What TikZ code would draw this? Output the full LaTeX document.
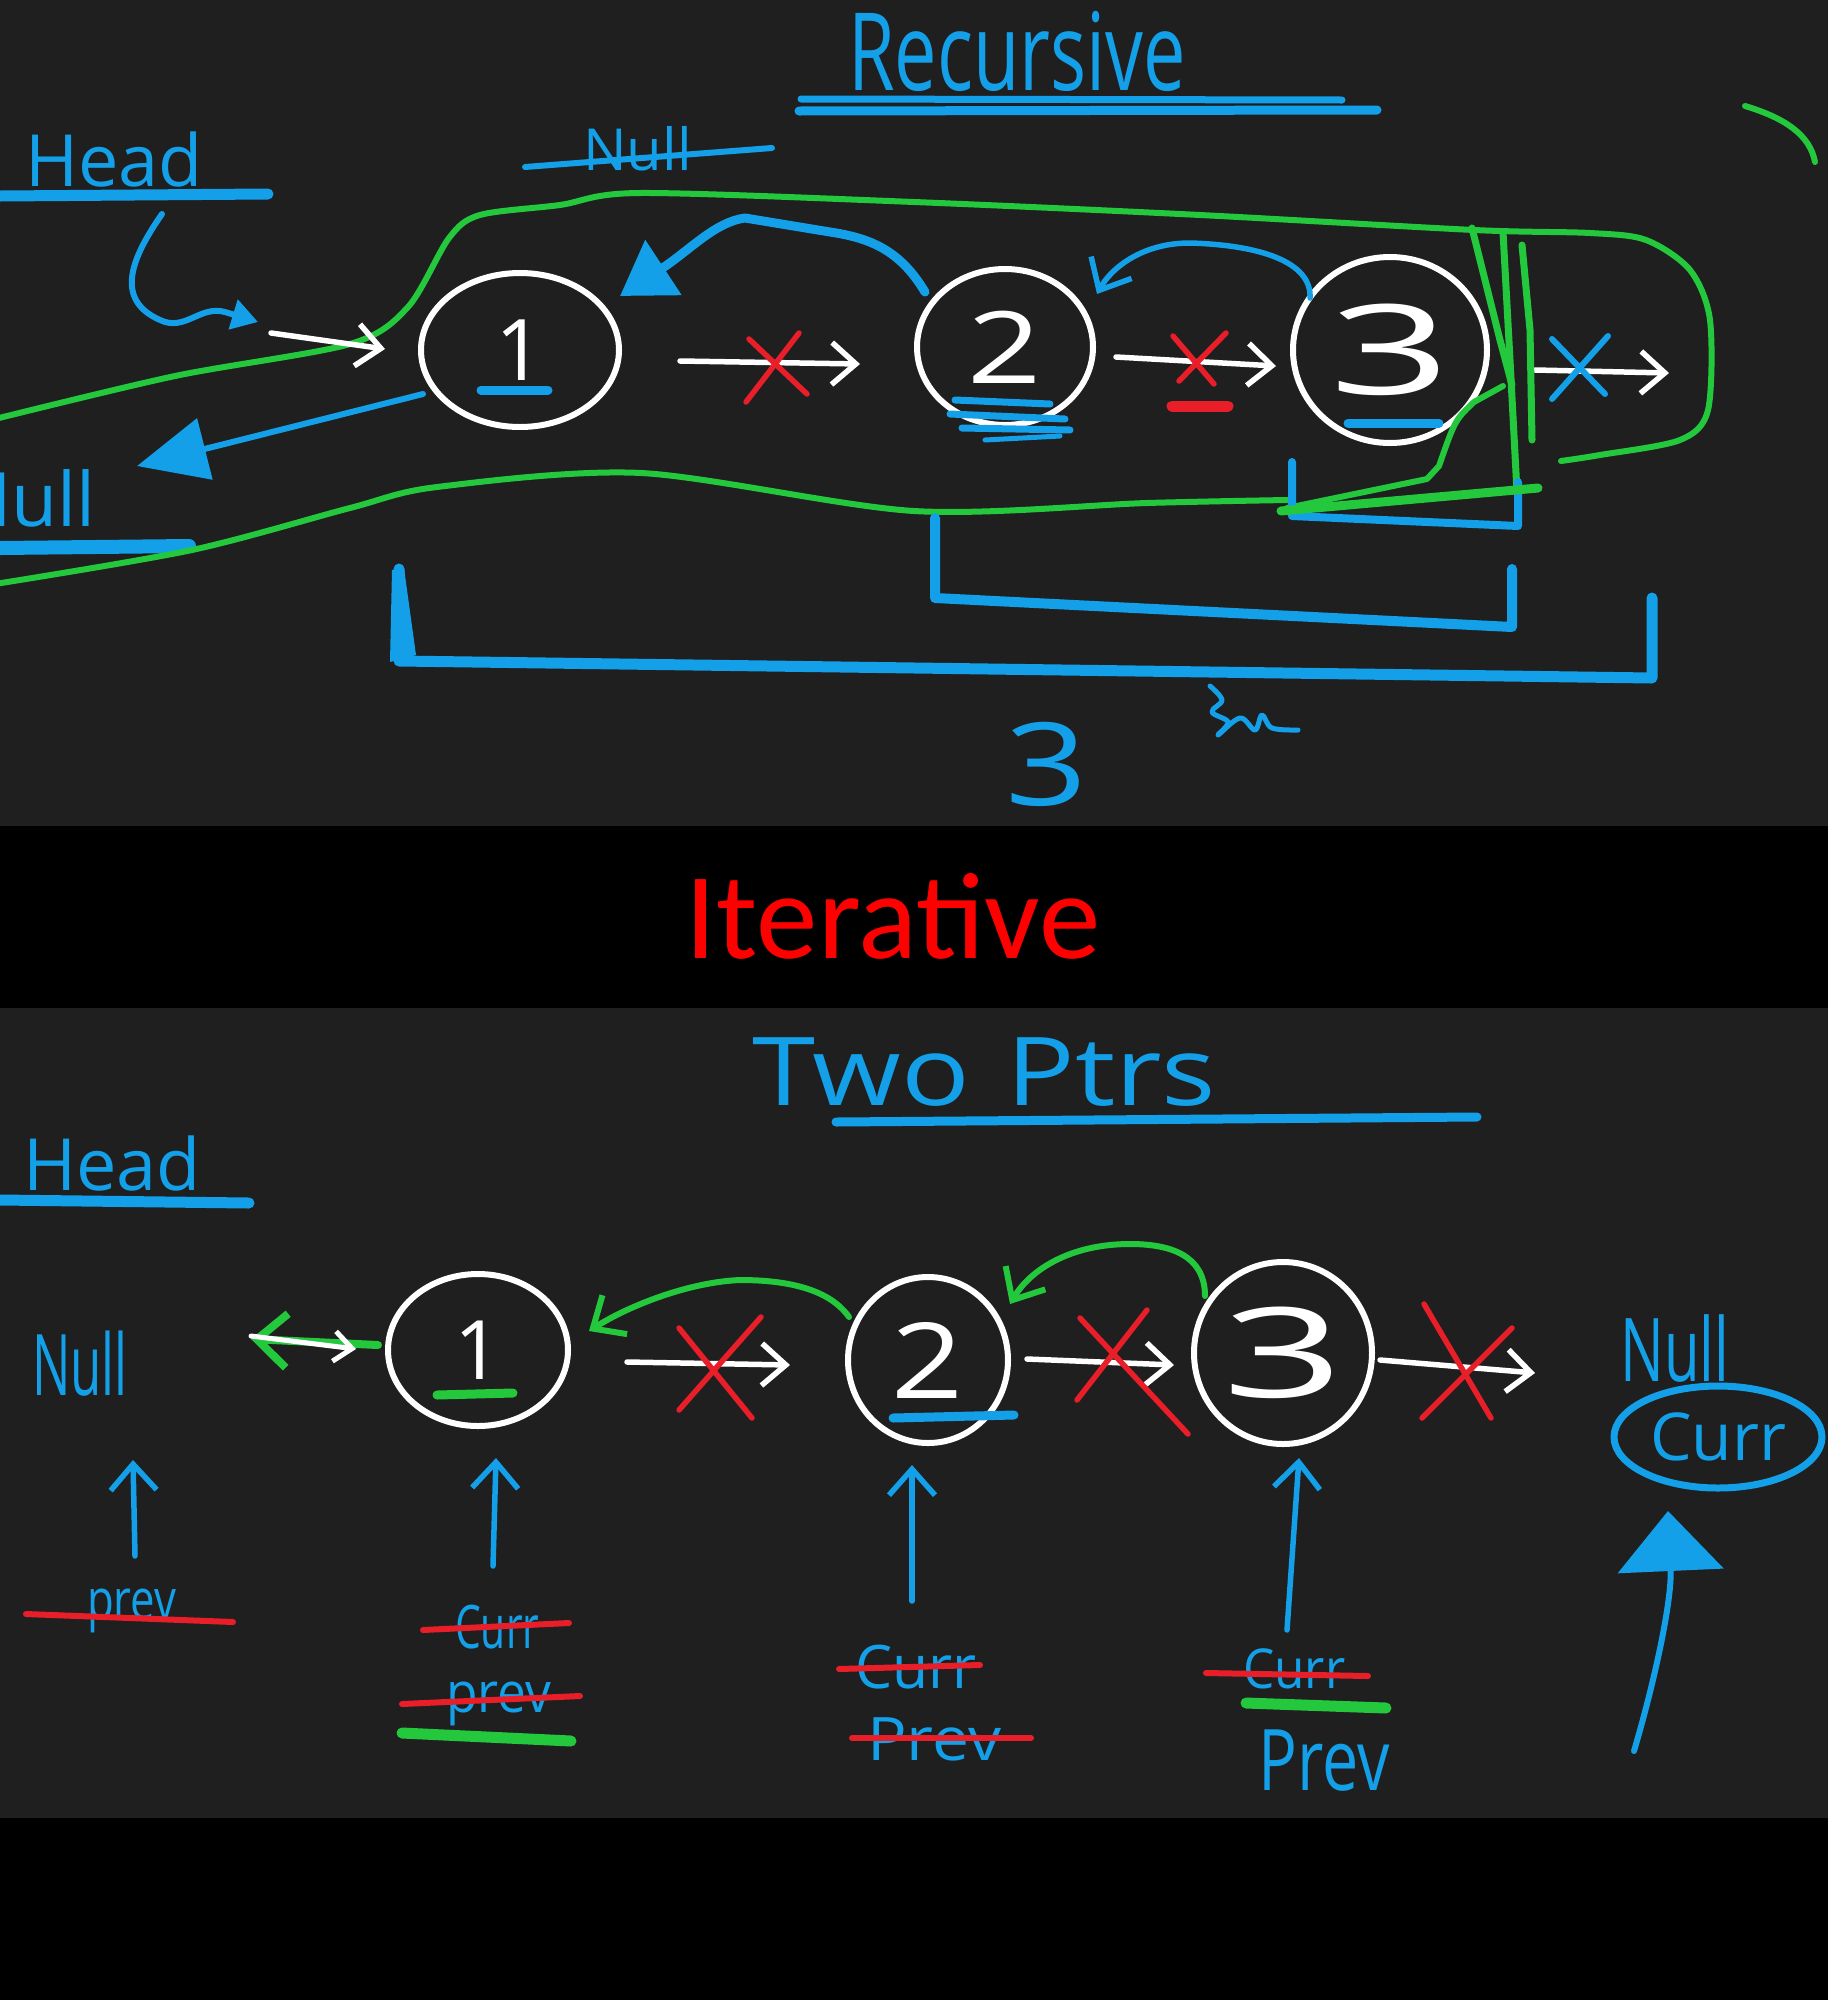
\documentclass[tikz,border=0pt]{standalone}
\usepackage{fontspec}
\newfontfamily\handfont{Open Sans}
\newfontfamily\iterfont{Carlito}
\usetikzlibrary{arrows.meta,shapes.geometric}
\definecolor{bgc}{RGB}{31,31,31}
\definecolor{pblue}{RGB}{20,160,232}
\definecolor{pgreen}{RGB}{36,200,60}
\definecolor{pred}{RGB}{232,30,40}
\definecolor{ired}{RGB}{255,0,0}
\newcommand\hwtext[3]{\scalebox{#1}[1]{\handfont\fontsize{#2pt}{#2pt}\selectfont #3}}
\begin{document}
\begin{tikzpicture}[x=1pt,y=-1pt,line cap=round,line join=round,
  lbl/.style={inner sep=0pt,anchor=base west,text=pblue},
  nodec/.style={ellipse,draw=white,line width=6pt,inner sep=0pt,text=white},
  wline/.style={draw=white,line width=5.5pt,-{Straight Barb[length=24pt,width=42pt]}},
  xmark/.style={draw=pred,line width=5.5pt},
  bxmark/.style={draw=pblue,line width=6pt},
  strike/.style={draw=pred,line width=6pt},
  bthick/.style={draw=pblue,line width=10pt},
  gline/.style={draw=pgreen,line width=6pt},
  uparrow/.style={draw=pblue,line width=5.5pt,-{Straight Barb[length=26pt,width=46pt]}}]
\useasboundingbox (0,0) rectangle (1828,2000);
\fill[black] (0,0) rectangle (1828,2000);
\fill[bgc] (0,0) rectangle (1828,826);
\fill[bgc] (0,1008) rectangle (1828,1818);

% ================= TOP PANEL =================
\node[lbl] (rectitle) at (848,90) {\hwtext{0.7}{108}{Recursive}};
\draw[pblue,line width=7pt] (801,99) -- (1342,100);
\draw[pblue,line width=9pt] (799,111) -- (1377,110);

\node[lbl] (head1) at (25,186) {\hwtext{1}{72}{Head}};
\draw[pblue,line width=11pt] (0,196) -- (268,194);

\node[lbl] (nulltop) at (583,170) {\hwtext{1}{58}{Null}};
\draw[pblue,line width=6pt] (525,167) -- (772,148);

\node[lbl] (nullbl) at (-45,526) {\hwtext{1}{75}{Null}};
\draw[pblue,line width=14pt] (0,548) -- (189,546);

% green loop
\draw[gline] plot[smooth,tension=0.5] coordinates {(-5,419) (175,376) (350,344) (408,307) (449,238) (480,215) (560,205) (640,193) (914,202) (1200,215) (1474,230) (1590,233) (1646,240) (1690,270) (1710,320) (1708,410) (1680,440) (1600,455) (1561,461)};
\draw[gline] plot[smooth,tension=0.5] coordinates {(-5,584) (192,550) (350,508) (437,487) (641,473) (914,511) (1147,503) (1287,500)};
\draw[gline] (1745,106) .. controls (1785,118) and (1810,135) .. (1815,162);

% nodes
\node[nodec,minimum width=198pt,minimum height=154pt] (t1) at (520,350) {\hwtext{1}{85}{1}};
\node[nodec,minimum width=176pt,minimum height=156pt] (t2) at (1005,347) {\hwtext{1.3}{100}{2}};
\node[nodec,minimum width=194pt,minimum height=186pt] (t3) at (1390,350) {\hwtext{1.7}{125}{3}};

% underlines in nodes
\draw[pblue,line width=9pt] (481,390) -- (548,390);
\draw[pblue,line width=7pt] (955,400) -- (1050,404);
\draw[pblue,line width=7pt] (950,414) -- (1065,419);
\draw[pblue,line width=7pt] (962,428) -- (1070,430);
\draw[pblue,line width=5pt] (985,440) -- (1060,436);
\draw[pblue,line width=9pt] (1348,423) -- (1439,423);

% head arrow
\coordinate (hs) at (162,214);
\coordinate (he) at (258,322);
\draw[pblue,line width=6pt,-{Triangle[length=26pt,width=30pt]}] (hs) .. controls (130,260) and (115,300) .. (160,320) .. controls (185,332) and (200,305) .. (225,312) -- (he);

% white arrows
\coordinate (w0s) at (271,333); \coordinate (w0e) at (385,349);
\draw[wline] (w0s) -- (w0e);
\coordinate (a12s) at (680,361); \coordinate (a12e) at (860,364);
\draw[wline] (a12s) -- (a12e);
\draw[xmark] (749,339) -- (807,394);
\draw[xmark] (799,333) -- (746,402);
\coordinate (a23s) at (1116,357); \coordinate (a23e) at (1276,366);
\draw[wline] (a23s) -- (a23e);
\draw[xmark] (1173,336) -- (1214,384);
\draw[xmark] (1226,333) -- (1179,381);
\draw[pred,line width=11pt] (1172,406) -- (1228,406);
\coordinate (a3s) at (1535,370); \coordinate (a3e) at (1669,373);
\draw[wline] (a3s) -- (a3e);
\draw[bxmark] (1552,339) -- (1605,394);
\draw[bxmark] (1608,336) -- (1552,399);

% reversed blue arrows
\coordinate (r21s) at (925,292); \coordinate (r21e) at (620,296);
\draw[pblue,line width=9pt,-{Triangle[length=52pt,width=64pt]}] (r21s) .. controls (900,250) and (870,238) .. (830,232) -- (745,218) .. controls (715,222) and (690,250) .. (r21e);
\coordinate (r32s) at (1310,298); \coordinate (r32e) at (1097,294);
\draw[pblue,line width=5.5pt,-{Straight Barb[length=26pt,width=46pt]}] (r32s) .. controls (1312,262) and (1260,245) .. (1190,243) .. controls (1140,243) and (1110,270) .. (r32e);
\coordinate (r1ns) at (423,394); \coordinate (r1ne) at (137,466);
\draw[pblue,line width=6pt,-{Triangle[length=70pt,width=62pt]}] (r1ns) -- (r1ne);

% green strokes near node 3
\draw[gline] (1503,386) -- (1474,402) .. controls (1455,420) .. (1439,466) -- (1427,479) -- (1287,508);
\draw[pgreen,line width=7pt] (1472,228) -- (1500,340) -- (1512,385);
\draw[pgreen,line width=7pt] (1503,232) -- (1510,360) -- (1517,492);
\draw[pgreen,line width=7pt] (1522,245) -- (1530,330) -- (1532,440);

% brackets
\draw[pblue,line width=8pt] (1292,462) -- (1292,516) -- (1518,526) -- (1518,482);
\draw[pgreen,line width=9pt] (1281,511) -- (1538,488);
\draw[bthick] (935,518) -- (935,598) -- (1512,627) -- (1512,569);
\draw[pblue,line width=11pt] (399,569) -- (399,661) -- (1652,678) -- (1652,598);
\fill[pblue] (392,570) -- (404,568) -- (416,655) -- (390,662) -- cycle;

\node[text=pblue,inner sep=0pt] (three) at (1047,764) {\hwtext{1.25}{115}{3}};
\draw[pblue,line width=5pt] plot[smooth,tension=0.6] coordinates {(1210,686) (1222,700) (1212,712) (1228,722) (1218,735) (1240,718) (1255,730) (1262,715) (1272,728) (1298,730)};

% ================= MIDDLE =================
\node[inner sep=0pt,anchor=base,text=ired] (iter) at (893,958) {\iterfont\fontsize{123pt}{123pt}\selectfont Iterative};

% ================= BOTTOM PANEL =================
\node[lbl] (twoptrs) at (752,1105) {\hwtext{1.2}{95}{Two\hspace{30pt}Ptrs}};
\draw[pblue,line width=9pt] (836,1122) -- (1477,1117);

\node[lbl] (head2) at (23,1190) {\hwtext{1}{72}{Head}};
\draw[pblue,line width=11pt] (0,1200) -- (249,1203);

\node[lbl] (nullL) at (32,1395) {\hwtext{0.6}{85}{Null}};

\node[nodec,minimum width=180pt,minimum height=152pt] (b1) at (478,1350) {\hwtext{1}{82}{1}};
\node[nodec,minimum width=160pt,minimum height=166pt] (b2) at (928,1360) {\hwtext{1.2}{105}{2}};
\node[nodec,minimum width=178pt,minimum height=182pt] (b3) at (1283,1353) {\hwtext{1.7}{125}{3}};

\draw[pgreen,line width=9pt] (437,1395) -- (513,1393);
\draw[pblue,line width=9pt] (893,1418) -- (1014,1415);

% green + white arrow at null
\coordinate (gns) at (378,1345); \coordinate (gne) at (251,1339);
\draw[pgreen,line width=8pt,-{Straight Barb[length=30pt,width=54pt]}] (gns) -- (gne);
\coordinate (wns) at (251,1336); \coordinate (wne) at (356,1349);
\draw[draw=white,line width=5pt,-{Straight Barb[length=18pt,width=30pt]}] (wns) -- (wne);

% white arrows with red x
\coordinate (c12s) at (627,1362); \coordinate (c12e) at (790,1365);
\draw[wline] (c12s) -- (c12e);
\draw[xmark] (679,1328) -- (752,1418);
\draw[xmark] (761,1317) -- (679,1410);
\coordinate (c23s) at (1027,1359); \coordinate (c23e) at (1174,1365);
\draw[wline] (c23s) -- (c23e);
\draw[xmark] (1080,1318) -- (1188,1434);
\draw[xmark] (1147,1310) -- (1077,1400);
\coordinate (c3s) at (1380,1360); \coordinate (c3e) at (1535,1373);
\draw[wline] (c3s) -- (c3e);
\draw[xmark] (1424,1304) -- (1491,1418);
\draw[xmark] (1512,1328) -- (1422,1418);

% green reversed arcs
\coordinate (g32s) at (1205,1296); \coordinate (g32e) at (1010,1304);
\draw[gline,-{Straight Barb[length=26pt,width=46pt]}] (g32s) .. controls (1205,1255) and (1170,1244) .. (1130,1244) .. controls (1070,1244) and (1030,1270) .. (g32e);
\coordinate (g21s) at (849,1317); \coordinate (g21e) at (589,1331);
\draw[gline,-{Straight Barb[length=26pt,width=46pt]}] (g21s) .. controls (830,1290) and (790,1280) .. (740,1280) .. controls (690,1282) and (630,1305) .. (g21e);

% up arrows
\coordinate (u0s) at (135,1556); \coordinate (u0e) at (133,1460);
\draw[uparrow] (u0s) -- (u0e);
\coordinate (u1s) at (493,1566); \coordinate (u1e) at (496,1458);
\draw[uparrow] (u1s) -- (u1e);
\coordinate (u2s) at (912,1601); \coordinate (u2e) at (912,1465);
\draw[uparrow] (u2s) -- (u2e);
\coordinate (u3s) at (1287,1630); \coordinate (u3e) at (1299,1458);
\draw[uparrow] (u3s) -- (u3e);

% labels under
\node[lbl] (prev0) at (87,1619) {\hwtext{0.78}{56}{prev}};
\draw[strike] (26,1614) -- (233,1622);
\node[lbl] (curr1) at (455,1648) {\hwtext{0.68}{60}{Curr}};
\draw[strike] (423,1630) -- (569,1623);
\node[lbl] (prev1) at (446,1712) {\hwtext{0.92}{56}{prev}};
\draw[strike] (402,1704) -- (580,1696);
\draw[pgreen,line width=11pt] (402,1733) -- (571,1741);
\node[lbl] (curr2) at (855,1688) {\hwtext{0.98}{60}{Curr}};
\draw[strike] (839,1669) -- (980,1665);
\node[lbl] (prev2) at (867,1760) {\hwtext{1.1}{60}{Prev}};
\draw[strike] (852,1738) -- (1031,1738);
\node[lbl] (curr3) at (1243,1688) {\hwtext{0.9}{55}{Curr}};
\draw[strike] (1206,1673) -- (1368,1676);
\draw[pgreen,line width=11pt] (1246,1703) -- (1386,1708);
\node[lbl] (prev3) at (1258,1790) {\hwtext{0.76}{85}{Prev}};

% right side
\node[lbl] (nullR) at (1620,1381) {\hwtext{0.66}{88}{Null}};
\node[ellipse,draw=pblue,line width=7pt,minimum width=208pt,minimum height=102pt,inner sep=0pt,text=pblue] (currE) at (1718,1437) {\hwtext{1}{66}{Curr}};
\coordinate (bigs) at (1634,1751); \coordinate (bige) at (1668,1511);
\draw[pblue,line width=6pt,-{Triangle[length=60pt,width=105pt]}] (bigs) .. controls (1655,1680) and (1672,1600) .. (bige);
\end{tikzpicture}
\end{document}
